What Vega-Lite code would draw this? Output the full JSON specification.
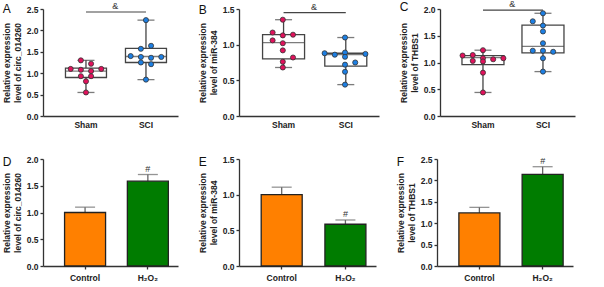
{
  "$schema": "https://vega.github.io/schema/vega-lite/v6.json",
  "padding": {"left": 2, "top": 0, "right": 2, "bottom": 2},
  "background": "white",
  "datasets": {
    "ptsA": [
      {"group": "Sham", "slot": -0.5, "value": 1.30}, {"group": "Sham", "slot": 0.5, "value": 1.22},
      {"group": "Sham", "slot": -1.5, "value": 1.10}, {"group": "Sham", "slot": -0.5, "value": 1.08},
      {"group": "Sham", "slot": 1.5, "value": 1.10}, {"group": "Sham", "slot": 0.5, "value": 1.05},
      {"group": "Sham", "slot": -0.5, "value": 0.93}, {"group": "Sham", "slot": 0.5, "value": 0.93},
      {"group": "Sham", "slot": 0, "value": 0.81}, {"group": "Sham", "slot": 0, "value": 0.55},
      {"group": "SCI", "slot": 0, "value": 2.24}, {"group": "SCI", "slot": -0.5, "value": 1.57},
      {"group": "SCI", "slot": 0.5, "value": 1.64}, {"group": "SCI", "slot": -1.5, "value": 1.40},
      {"group": "SCI", "slot": -0.5, "value": 1.38}, {"group": "SCI", "slot": 0.5, "value": 1.36},
      {"group": "SCI", "slot": 1.5, "value": 1.38}, {"group": "SCI", "slot": -0.5, "value": 1.25},
      {"group": "SCI", "slot": 0.5, "value": 1.21}, {"group": "SCI", "slot": 0, "value": 0.85}
    ],
    "boxA": [
      {"group": "Sham", "min": 0.55, "q1": 0.90, "median": 1.05, "q3": 1.12, "max": 1.30},
      {"group": "SCI", "min": 0.85, "q1": 1.25, "median": 1.39, "q3": 1.58, "max": 2.24}
    ],
    "sigA": [{"from": "Sham", "to": "SCI", "y": 2.43, "label": "&"}],
    "ptsB": [
      {"group": "Sham", "slot": 0, "value": 1.35}, {"group": "Sham", "slot": -1, "value": 1.17},
      {"group": "Sham", "slot": 0, "value": 1.13}, {"group": "Sham", "slot": 1, "value": 1.14},
      {"group": "Sham", "slot": -1, "value": 1.06}, {"group": "Sham", "slot": 0, "value": 1.02},
      {"group": "Sham", "slot": 0, "value": 0.92}, {"group": "Sham", "slot": 1, "value": 0.82},
      {"group": "Sham", "slot": 0, "value": 0.76}, {"group": "Sham", "slot": 0, "value": 0.68},
      {"group": "SCI", "slot": 0, "value": 1.10}, {"group": "SCI", "slot": -2, "value": 0.88},
      {"group": "SCI", "slot": -1, "value": 0.86}, {"group": "SCI", "slot": 0, "value": 0.89},
      {"group": "SCI", "slot": 0, "value": 0.83}, {"group": "SCI", "slot": 2, "value": 0.87},
      {"group": "SCI", "slot": 1, "value": 0.75}, {"group": "SCI", "slot": 0, "value": 0.72},
      {"group": "SCI", "slot": 0, "value": 0.62}, {"group": "SCI", "slot": 0, "value": 0.44}
    ],
    "boxB": [
      {"group": "Sham", "min": 0.68, "q1": 0.80, "median": 1.03, "q3": 1.14, "max": 1.35},
      {"group": "SCI", "min": 0.44, "q1": 0.70, "median": 0.86, "q3": 0.88, "max": 1.10}
    ],
    "sigB": [{"from": "Sham", "to": "SCI", "y": 1.45, "label": "&"}],
    "ptsC": [
      {"group": "Sham", "slot": 0, "value": 1.23}, {"group": "Sham", "slot": -2, "value": 1.13},
      {"group": "Sham", "slot": -1, "value": 1.14}, {"group": "Sham", "slot": 0, "value": 1.08},
      {"group": "Sham", "slot": 1, "value": 1.06}, {"group": "Sham", "slot": 2, "value": 1.08},
      {"group": "Sham", "slot": -1, "value": 1.03}, {"group": "Sham", "slot": 0, "value": 1.02},
      {"group": "Sham", "slot": 0, "value": 0.81}, {"group": "Sham", "slot": 0, "value": 0.44},
      {"group": "SCI", "slot": 0, "value": 1.92}, {"group": "SCI", "slot": -1, "value": 1.77},
      {"group": "SCI", "slot": 0, "value": 1.69}, {"group": "SCI", "slot": 0, "value": 1.58},
      {"group": "SCI", "slot": 0, "value": 1.36}, {"group": "SCI", "slot": -1, "value": 1.22},
      {"group": "SCI", "slot": 0, "value": 1.22}, {"group": "SCI", "slot": 1, "value": 1.20},
      {"group": "SCI", "slot": 0, "value": 1.08}, {"group": "SCI", "slot": 0, "value": 0.83}
    ],
    "boxC": [
      {"group": "Sham", "min": 0.44, "q1": 0.96, "median": 1.09, "q3": 1.13, "max": 1.23},
      {"group": "SCI", "min": 0.83, "q1": 1.18, "median": 1.30, "q3": 1.70, "max": 1.92}
    ],
    "sigC": [{"from": "Sham", "to": "SCI", "y": 1.98, "label": "&"}],
    "barD": [
      {"group": "Control", "mean": 1.00, "upper": 1.10, "mark": ""},
      {"group": "H₂O₂", "mean": 1.585, "upper": 1.71, "mark": "#"}
    ],
    "barE": [
      {"group": "Control", "mean": 1.00, "upper": 1.105, "mark": ""},
      {"group": "H₂O₂", "mean": 0.585, "upper": 0.645, "mark": "#"}
    ],
    "barF": [
      {"group": "Control", "mean": 1.24, "upper": 1.37, "mark": ""},
      {"group": "H₂O₂", "mean": 2.14, "upper": 2.32, "mark": "#"}
    ]
  },
  "resolve": {"scale": {"fill": "independent"}},
  "vconcat": [
    {
      "hconcat": [
        {
          "width": 135, "height": 107,
          "title": {"text": "A"},
          "layer": [
            {"data": {"name": "boxA"}, "mark": {"type": "rule", "color": "#444", "strokeWidth": 1.3},
             "encoding": {"x": {"field": "group", "type": "nominal"}, "y": {"field": "min", "type": "quantitative"}, "y2": {"field": "max"}}},
            {"data": {"name": "boxA"}, "mark": {"type": "bar", "fill": "white", "stroke": "#444", "strokeWidth": 1.3, "width": 41},
             "encoding": {"x": {"field": "group", "type": "nominal"}, "y": {"field": "q1", "type": "quantitative"}, "y2": {"field": "q3"}}},
            {"data": {"name": "boxA"}, "mark": {"type": "tick", "color": "#444", "size": 41, "thickness": 1.3},
             "encoding": {"x": {"field": "group", "type": "nominal"}, "y": {"field": "median", "type": "quantitative"}}},
            {"data": {"name": "boxA"}, "mark": {"type": "tick", "color": "#444", "size": 17, "thickness": 1.3},
             "encoding": {"x": {"field": "group", "type": "nominal"}, "y": {"field": "min", "type": "quantitative"}}},
            {"data": {"name": "boxA"}, "mark": {"type": "tick", "color": "#444", "size": 17, "thickness": 1.3},
             "encoding": {"x": {"field": "group", "type": "nominal"}, "y": {"field": "max", "type": "quantitative"}}},
            {"data": {"name": "ptsA"}, "mark": {"type": "point", "filled": true, "size": 26, "stroke": "#333", "strokeWidth": 0.8, "opacity": 1},
             "encoding": {"x": {"field": "group", "type": "nominal"},
                          "xOffset": {"field": "slot", "type": "nominal", "scale": {"domain": [-2, -1.5, -1, -0.5, 0, 0.5, 1, 1.5, 2], "paddingInner": 0, "paddingOuter": 0}},
                          "y": {"field": "value", "type": "quantitative"},
                          "fill": {"field": "group", "type": "nominal", "scale": {"domain": ["Sham", "SCI"], "range": ["#e0125c", "#1d7fe3"]}, "legend": null}}},
            {"data": {"name": "sigA"}, "mark": {"type": "rule", "color": "#444", "strokeWidth": 1.2},
             "encoding": {"x": {"field": "from", "type": "nominal", "bandPosition": 0.5}, "x2": {"field": "to", "bandPosition": 0.5}, "y": {"field": "y", "type": "quantitative"}}},
            {"data": {"name": "sigA"}, "mark": {"type": "text", "baseline": "bottom", "dy": -1, "fontSize": 9, "color": "#333"},
             "encoding": {"x": {"field": "from", "type": "nominal", "bandPosition": 1.22}, "y": {"field": "y", "type": "quantitative"}, "text": {"field": "label"}}}
          ],
          "encoding": {
            "x": {"scale": {"type": "band", "domain": ["Sham", "SCI"], "paddingInner": 0.32, "paddingOuter": 0.285, "align": 0.66}, "axis": {"ticks": false}},
            "y": {"scale": {"domain": [0, 2.5], "nice": false}, "axis": {"values": [0, 0.5, 1, 1.5, 2, 2.5], "format": ".1f", "title": ["Relative expression", "level of circ_014260"]}}
          }
        },
        {
          "width": 140, "height": 107,
          "title": {"text": "B"},
          "layer": [
            {"data": {"name": "boxB"}, "mark": {"type": "rule", "color": "#444", "strokeWidth": 1.3},
             "encoding": {"x": {"field": "group", "type": "nominal"}, "y": {"field": "min", "type": "quantitative"}, "y2": {"field": "max"}}},
            {"data": {"name": "boxB"}, "mark": {"type": "bar", "fill": "white", "stroke": "#444", "strokeWidth": 1.3, "width": 42},
             "encoding": {"x": {"field": "group", "type": "nominal"}, "y": {"field": "q1", "type": "quantitative"}, "y2": {"field": "q3"}}},
            {"data": {"name": "boxB"}, "mark": {"type": "tick", "color": "#444", "size": 42, "thickness": 1.3},
             "encoding": {"x": {"field": "group", "type": "nominal"}, "y": {"field": "median", "type": "quantitative"}}},
            {"data": {"name": "boxB"}, "mark": {"type": "tick", "color": "#444", "size": 17, "thickness": 1.3},
             "encoding": {"x": {"field": "group", "type": "nominal"}, "y": {"field": "min", "type": "quantitative"}}},
            {"data": {"name": "boxB"}, "mark": {"type": "tick", "color": "#444", "size": 17, "thickness": 1.3},
             "encoding": {"x": {"field": "group", "type": "nominal"}, "y": {"field": "max", "type": "quantitative"}}},
            {"data": {"name": "ptsB"}, "mark": {"type": "point", "filled": true, "size": 26, "stroke": "#333", "strokeWidth": 0.8, "opacity": 1},
             "encoding": {"x": {"field": "group", "type": "nominal"},
                          "xOffset": {"field": "slot", "type": "nominal", "scale": {"domain": [-2, -1.5, -1, -0.5, 0, 0.5, 1, 1.5, 2], "paddingInner": 0, "paddingOuter": 0}},
                          "y": {"field": "value", "type": "quantitative"},
                          "fill": {"field": "group", "type": "nominal", "scale": {"domain": ["Sham", "SCI"], "range": ["#e0125c", "#1d7fe3"]}, "legend": null}}},
            {"data": {"name": "sigB"}, "mark": {"type": "rule", "color": "#444", "strokeWidth": 1.2},
             "encoding": {"x": {"field": "from", "type": "nominal", "bandPosition": 0.5}, "x2": {"field": "to", "bandPosition": 0.5}, "y": {"field": "y", "type": "quantitative"}}},
            {"data": {"name": "sigB"}, "mark": {"type": "text", "baseline": "bottom", "dy": -1, "fontSize": 9, "color": "#333"},
             "encoding": {"x": {"field": "from", "type": "nominal", "bandPosition": 1.22}, "y": {"field": "y", "type": "quantitative"}, "text": {"field": "label"}}}
          ],
          "encoding": {
            "x": {"scale": {"type": "band", "domain": ["Sham", "SCI"], "paddingInner": 0.32, "paddingOuter": 0.285, "align": 0.66}, "axis": {"ticks": false}},
            "y": {"scale": {"domain": [0, 1.5], "nice": false}, "axis": {"values": [0, 0.5, 1, 1.5], "format": ".1f", "title": ["Relative expression", "level of miR-384"]}}
          }
        },
        {
          "width": 135, "height": 107,
          "title": {"text": "C"},
          "layer": [
            {"data": {"name": "boxC"}, "mark": {"type": "rule", "color": "#444", "strokeWidth": 1.3},
             "encoding": {"x": {"field": "group", "type": "nominal"}, "y": {"field": "min", "type": "quantitative"}, "y2": {"field": "max"}}},
            {"data": {"name": "boxC"}, "mark": {"type": "bar", "fill": "white", "stroke": "#444", "strokeWidth": 1.3, "width": 42},
             "encoding": {"x": {"field": "group", "type": "nominal"}, "y": {"field": "q1", "type": "quantitative"}, "y2": {"field": "q3"}}},
            {"data": {"name": "boxC"}, "mark": {"type": "tick", "color": "#444", "size": 42, "thickness": 1.3},
             "encoding": {"x": {"field": "group", "type": "nominal"}, "y": {"field": "median", "type": "quantitative"}}},
            {"data": {"name": "boxC"}, "mark": {"type": "tick", "color": "#444", "size": 17, "thickness": 1.3},
             "encoding": {"x": {"field": "group", "type": "nominal"}, "y": {"field": "min", "type": "quantitative"}}},
            {"data": {"name": "boxC"}, "mark": {"type": "tick", "color": "#444", "size": 17, "thickness": 1.3},
             "encoding": {"x": {"field": "group", "type": "nominal"}, "y": {"field": "max", "type": "quantitative"}}},
            {"data": {"name": "ptsC"}, "mark": {"type": "point", "filled": true, "size": 26, "stroke": "#333", "strokeWidth": 0.8, "opacity": 1},
             "encoding": {"x": {"field": "group", "type": "nominal"},
                          "xOffset": {"field": "slot", "type": "nominal", "scale": {"domain": [-2, -1.5, -1, -0.5, 0, 0.5, 1, 1.5, 2], "paddingInner": 0, "paddingOuter": 0}},
                          "y": {"field": "value", "type": "quantitative"},
                          "fill": {"field": "group", "type": "nominal", "scale": {"domain": ["Sham", "SCI"], "range": ["#e0125c", "#1d7fe3"]}, "legend": null}}},
            {"data": {"name": "sigC"}, "mark": {"type": "rule", "color": "#444", "strokeWidth": 1.2},
             "encoding": {"x": {"field": "from", "type": "nominal", "bandPosition": 0.5}, "x2": {"field": "to", "bandPosition": 0.5}, "y": {"field": "y", "type": "quantitative"}}},
            {"data": {"name": "sigC"}, "mark": {"type": "text", "baseline": "bottom", "dy": -1, "fontSize": 9, "color": "#333"},
             "encoding": {"x": {"field": "from", "type": "nominal", "bandPosition": 1.22}, "y": {"field": "y", "type": "quantitative"}, "text": {"field": "label"}}}
          ],
          "encoding": {
            "x": {"scale": {"type": "band", "domain": ["Sham", "SCI"], "paddingInner": 0.32, "paddingOuter": 0.285, "align": 0.66}, "axis": {"ticks": false}},
            "y": {"scale": {"domain": [0, 2.0], "nice": false}, "axis": {"values": [0, 0.5, 1, 1.5, 2], "format": ".1f", "title": ["Relative expression", "level of THBS1"]}}
          }
        }
      ]
    },
    {
      "hconcat": [
        {
          "width": 135, "height": 107,
          "title": {"text": "D"},
          "data": {"name": "barD"},
          "layer": [
            {"mark": {"type": "rule", "color": "#666", "strokeWidth": 1.3},
             "encoding": {"y": {"field": "mean", "type": "quantitative"}, "y2": {"field": "upper"}}},
            {"mark": {"type": "tick", "color": "#666", "size": 20, "thickness": 1.3},
             "encoding": {"y": {"field": "upper", "type": "quantitative"}}},
            {"mark": {"type": "bar", "stroke": "#222", "strokeWidth": 1.3, "width": 41},
             "encoding": {"y": {"field": "mean", "type": "quantitative"},
                          "fill": {"field": "group", "type": "nominal", "scale": {"domain": ["Control", "H₂O₂"], "range": ["#ff8000", "#007c00"]}, "legend": null}}},
            {"mark": {"type": "text", "baseline": "bottom", "dy": -1, "fontSize": 9, "color": "#333"},
             "encoding": {"y": {"field": "upper", "type": "quantitative"}, "text": {"field": "mark"}}}
          ],
          "encoding": {
            "x": {"field": "group", "type": "nominal", "sort": null, "scale": {"type": "band", "paddingInner": 0.35, "paddingOuter": 0.25, "align": 0.69}, "axis": {"title": null}},
            "y": {"scale": {"domain": [0, 2.0], "nice": false}, "axis": {"values": [0, 0.5, 1, 1.5, 2], "format": ".1f", "title": ["Relative expression", "level of circ_014260"]}}
          }
        },
        {
          "width": 137, "height": 107,
          "title": {"text": "E"},
          "data": {"name": "barE"},
          "layer": [
            {"mark": {"type": "rule", "color": "#666", "strokeWidth": 1.3},
             "encoding": {"y": {"field": "mean", "type": "quantitative"}, "y2": {"field": "upper"}}},
            {"mark": {"type": "tick", "color": "#666", "size": 20, "thickness": 1.3},
             "encoding": {"y": {"field": "upper", "type": "quantitative"}}},
            {"mark": {"type": "bar", "stroke": "#222", "strokeWidth": 1.3, "width": 41},
             "encoding": {"y": {"field": "mean", "type": "quantitative"},
                          "fill": {"field": "group", "type": "nominal", "scale": {"domain": ["Control", "H₂O₂"], "range": ["#ff8000", "#007c00"]}, "legend": null}}},
            {"mark": {"type": "text", "baseline": "bottom", "dy": -1, "fontSize": 9, "color": "#333"},
             "encoding": {"y": {"field": "upper", "type": "quantitative"}, "text": {"field": "mark"}}}
          ],
          "encoding": {
            "x": {"field": "group", "type": "nominal", "sort": null, "scale": {"type": "band", "paddingInner": 0.35, "paddingOuter": 0.25, "align": 0.69}, "axis": {"title": null}},
            "y": {"scale": {"domain": [0, 1.5], "nice": false}, "axis": {"values": [0, 0.5, 1, 1.5], "format": ".1f", "title": ["Relative expression", "level of miR-384"]}}
          }
        },
        {
          "width": 136, "height": 107,
          "title": {"text": "F"},
          "data": {"name": "barF"},
          "layer": [
            {"mark": {"type": "rule", "color": "#666", "strokeWidth": 1.3},
             "encoding": {"y": {"field": "mean", "type": "quantitative"}, "y2": {"field": "upper"}}},
            {"mark": {"type": "tick", "color": "#666", "size": 20, "thickness": 1.3},
             "encoding": {"y": {"field": "upper", "type": "quantitative"}}},
            {"mark": {"type": "bar", "stroke": "#222", "strokeWidth": 1.3, "width": 41},
             "encoding": {"y": {"field": "mean", "type": "quantitative"},
                          "fill": {"field": "group", "type": "nominal", "scale": {"domain": ["Control", "H₂O₂"], "range": ["#ff8000", "#007c00"]}, "legend": null}}},
            {"mark": {"type": "text", "baseline": "bottom", "dy": -1, "fontSize": 9, "color": "#333"},
             "encoding": {"y": {"field": "upper", "type": "quantitative"}, "text": {"field": "mark"}}}
          ],
          "encoding": {
            "x": {"field": "group", "type": "nominal", "sort": null, "scale": {"type": "band", "paddingInner": 0.35, "paddingOuter": 0.25, "align": 0.69}, "axis": {"title": null}},
            "y": {"scale": {"domain": [0, 2.5], "nice": false}, "axis": {"values": [0, 0.5, 1, 1.5, 2, 2.5], "format": ".1f", "title": ["Relative expression", "level of THBS1"]}}
          }
        }
      ]
    }
  ],
  "spacing": 26,
  "config": {
    "view": {"stroke": null},
    "font": "Liberation Sans",
    "concat": {"spacing": 20},
    "title": {"anchor": "start", "frame": "bounds", "fontSize": 12, "fontWeight": "normal", "font": "Liberation Sans", "color": "#111", "offset": -14},
    "axis": {"grid": false, "labelFont": "Liberation Sans", "labelFontWeight": "bold", "labelFontSize": 8.5, "labelColor": "#222",
             "titleFont": "Liberation Sans", "titleFontWeight": "bold", "titleFontSize": 8.5, "titleColor": "#222", "titlePadding": 4,
             "domainColor": "#333", "domainWidth": 1.3, "tickColor": "#333", "tickWidth": 1.3, "tickSize": 3, "labelPadding": 2},
    "axisX": {"labelAngle": 0, "title": null, "labelPadding": 4}
  }
}
